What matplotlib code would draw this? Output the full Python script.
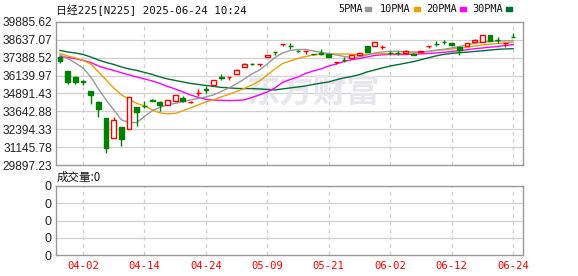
import matplotlib
matplotlib.use("Agg")
import matplotlib.pyplot as plt
import numpy as np

# ---------------- data ----------------
dates = ["03-28", "03-31", "04-01", "04-02", "04-03", "04-04", "04-07", "04-08", "04-09", "04-10",
         "04-11", "04-14", "04-15", "04-16", "04-17", "04-18", "04-21", "04-22", "04-23", "04-24",
         "04-25", "04-28", "04-30", "05-01", "05-02", "05-07", "05-08", "05-09", "05-12", "05-13",
         "05-14", "05-15", "05-16", "05-19", "05-20", "05-21", "05-22", "05-23", "05-26", "05-27",
         "05-28", "05-29", "05-30", "06-02", "06-03", "06-04", "06-05", "06-06", "06-09", "06-10",
         "06-11", "06-12", "06-13", "06-16", "06-17", "06-18", "06-19", "06-20", "06-23", "06-24"]

opens = [37423, 36468, 36070, 35740, 35072, 34326, 33189, 31773, 32540, 32401,
         33956, 34040, 34410, 34305, 34095, 34396, 34584, 34290, 34900, 35175,
         35470, 36010, 36020, 36237, 36747, 36970, 36975, 37424, 37780, 38340,
         38220, 37890, 37830, 37640, 37690, 37653, 37065, 37265, 37375, 37580,
         38210, 38210, 38110, 37710, 37755, 37745, 37653, 37770, 38180, 38360,
         38500, 38440, 38140, 38190, 38470, 38470, 38960, 38620, 38390, 38825]
highs = [37450, 36480, 36140, 35860, 35080, 34375, 33200, 33237, 32550, 34633,
         33960, 34375, 34480, 34396, 34430, 34780, 34700, 34400, 35190, 35400,
         35850, 36230, 36028, 36570, 37046, 37020, 36983, 37610, 37785, 38350,
         38400, 37895, 37840, 37680, 37980, 37660, 37075, 37420, 37570, 37750,
         38215, 38500, 38260, 37840, 37840, 37900, 37700, 37850, 38190, 38540,
         38650, 38450, 38145, 38410, 38720, 38965, 38965, 38840, 38400, 39139]
lows = [37005, 35580, 35560, 35510, 34166, 33280, 30768, 31760, 31236, 32390,
        32652, 33885, 34340, 33677, 34090, 34390, 34280, 34200, 34745, 34912,
        35460, 35850, 35840, 36230, 36740, 36880, 36815, 37420, 37590, 38210,
        37980, 37790, 37630, 37560, 37560, 37410, 36955, 37080, 37370, 37575,
        37810, 38200, 37980, 37560, 37610, 37700, 37560, 37765, 38070, 38210,
        38350, 38200, 37600, 38180, 38465, 38465, 38575, 38400, 38140, 38815]
closes = [37186, 35721, 35700, 35720, 34793, 33838, 31118, 33050, 31745, 34633,
          33628, 34026, 34396, 34072, 34420, 34773, 34396, 34305, 34912, 35163,
          35840, 36000, 36028, 36559, 36935, 36955, 36983, 37604, 37772, 38350,
          38210, 37880, 37840, 37630, 37675, 37420, 37075, 37255, 37560, 37745,
          37815, 38490, 38120, 37700, 37745, 37840, 37605, 37840, 38190, 38350,
          38490, 38280, 37930, 38400, 38630, 38960, 38580, 38610, 38400, 38818]

ma5 = [37584, 37340, 37026, 36677, 36049, 35212, 34445, 33747, 33050, 32876,
       32862, 33294, 33678, 33922, 34096, 34201, 34326, 34445, 34550, 34654,
       34794, 35038, 35282, 35561, 35910, 36258, 36537, 36956, 37409, 37723,
       37898, 37967, 37967, 37863, 37758, 37688, 37584, 37479, 37395, 37444,
       37584, 37723, 37793, 37842, 37842, 37807, 37793, 37793, 37828, 37919,
       37981, 38072, 38177, 38281, 38407, 38470, 38525, 38560, 38574, 38595]
ma10 = [37688, 37514, 37374, 37200, 36956, 36398, 35840, 35282, 34794, 34480,
        34201, 34026, 33747, 33538, 33468, 33503, 33678, 33887, 34096, 34305,
        34445, 34654, 34829, 35038, 35247, 35491, 35770, 36189, 36607, 36991,
        37165, 37340, 37479, 37584, 37653, 37653, 37653, 37653, 37633, 37619,
        37633, 37667, 37674, 37674, 37674, 37695, 37723, 37779, 37842, 37898,
        37946, 38002, 38051, 38128, 38211, 38281, 38337, 38386, 38435, 38490]
ma20 = [37479, 37409, 37326, 37200, 37061, 36816, 36642, 36503, 36342, 36189,
        36049, 35910, 35770, 35596, 35387, 35212, 35003, 34794, 34619, 34480,
        34431, 34410, 34396, 34410, 34445, 34619, 34794, 35003, 35282, 35666,
        35875, 36049, 36293, 36468, 36607, 36816, 36956, 37130, 37249, 37340,
        37444, 37549, 37598, 37619, 37612, 37619, 37633, 37653, 37688, 37723,
        37772, 37821, 37877, 37946, 38016, 38072, 38128, 38177, 38246, 38302]
ma30 = [37898, 37793, 37723, 37619, 37444, 37235, 37061, 36921, 36747, 36607,
        36503, 36363, 36224, 36049, 35910, 35805, 35700, 35596, 35526, 35456,
        35387, 35317, 35282, 35247, 35233, 35233, 35212, 35177, 35142, 35212,
        35282, 35352, 35421, 35526, 35617, 35700, 35854, 35979, 36084, 36210,
        36398, 36537, 36677, 36816, 36907, 37012, 37116, 37249, 37388, 37521,
        37626, 37695, 37744, 37779, 37828, 37877, 37926, 37974, 38002, 38023]

price_ticks = [29897.23, 31145.78, 32394.33, 33642.88, 34891.43, 36139.97, 37388.52, 38637.07, 39885.62]
price_labels = ["29897.23", "31145.78", "32394.33", "33642.88", "34891.43", "36139.97", "37388.52", "38637.07", "39885.62"]
date_ticks = ["04-02", "04-14", "04-24", "05-09", "05-21", "06-02", "06-12", "06-24"]
vol_labels = ["0", "0", "0", "0", "0"]

legend_names = ["5PMA", "10PMA", "20PMA", "30PMA"]

# ---------------- style ----------------
W, H = 578, 276
RED = "#ff0000"
GREEN = "#008000"
C5, C10, C20, C30 = "#999999", "#f0a000", "#ff00ff", "#006f33"
FRAME = "#999999"
GRID = "#d0d0d0"
CJK = ["Noto Sans CJK SC", "DejaVu Sans"]
MONO = ["DejaVu Sans Mono", "Noto Sans CJK SC"]

fig = plt.figure(figsize=(W / 100, H / 100), dpi=100)


def fx(px):
    return px / W


def fy(py):
    return 1 - py / H


ax = fig.add_axes([fx(56), fy(165), fx(523) - fx(56), fy(22) - fy(165)])
axv = fig.add_axes([fx(56), fy(255), fx(523) - fx(56), fy(186) - fy(255)])

n = len(dates)
x = np.arange(n)
xlim = (-0.52, 60.3)
date_idx = [dates.index(d) for d in date_ticks]

for a in (ax, axv):
    a.set_xlim(*xlim)
    for s in a.spines.values():
        s.set_color(FRAME)
        s.set_linewidth(1.0)
    a.tick_params(length=0)
    for xi in date_idx:
        a.axvline(xi, color=GRID, lw=0.9, ls=(0, (3, 3)), zorder=0.5)

# price axis
ax.set_ylim(price_ticks[0], price_ticks[-1])
ax.set_yticks(price_ticks)
ax.set_yticklabels(price_labels, fontsize=8.6, color="#222222", family="Liberation Sans")
ax.tick_params(axis="y", pad=3)
for t in price_ticks[1:-1]:
    ax.axhline(t, color=GRID, lw=0.9, zorder=0.5)
ax.set_xticks([])

# watermark
ax.text(0.55, 0.50, "东方财富", transform=ax.transAxes, fontsize=24, fontweight="bold",
        color="#e6e6ec", family=CJK, ha="center", va="center", zorder=0.6)

# moving averages
ax.plot(x, ma30, color=C30, lw=1.0, zorder=2)
ax.plot(x, ma20, color=C20, lw=1.0, zorder=2)
ax.plot(x, ma10, color=C10, lw=1.0, zorder=2)
ax.plot(x, ma5, color=C5, lw=1.0, zorder=2)

# candles
bw = 0.62
for i in range(n):
    o, h, l, c = opens[i], highs[i], lows[i], closes[i]
    up = c >= o
    col = RED if up else GREEN
    ax.vlines(x[i], l, h, color=col, lw=1.0, zorder=3)
    bottom = min(o, c)
    height = abs(c - o)
    ax.bar(x[i], height, bw, bottom=bottom, facecolor="white" if up else GREEN,
           edgecolor=col, linewidth=1.0, zorder=4)

# volume panel
axv.set_ylim(0, 1)
vt = np.linspace(0, 1, len(vol_labels))
axv.set_yticks(vt)
axv.set_yticklabels(vol_labels, fontsize=9, color="#222222", family="Liberation Sans")
axv.tick_params(axis="y", pad=3)
for t in vt[1:-1]:
    axv.axhline(t, color=GRID, lw=0.9, zorder=0.5)
axv.set_xticks(date_idx)
axv.set_xticklabels(date_ticks, fontsize=7.6, color=RED, family=MONO)
axv.tick_params(axis="x", pad=4)

# title and labels
fig.text(fx(56), fy(10), "日经225[N225] 2025-06-24 10:24", fontsize=7.8, family=MONO,
         color="#111111", ha="left", va="center")
fig.text(fx(57), fy(177.5), "成交量:0", fontsize=8.3, family=CJK, color="#111111",
         ha="left", va="center")

# legend
leg_x = [338, 380, 426, 472]
leg_cols = [C5, C10, C20, C30]
for name, lx, lc in zip(legend_names, leg_x, leg_cols):
    t = fig.text(fx(lx), fy(9), name, fontsize=7.4, family=MONO, color="#111111",
                 ha="left", va="center")
    fig.canvas.draw() if False else None
    tw = len(name) * 6.3
    fig.patches.append(plt.Rectangle((fx(lx + tw + 2), fy(10.5)), fx(6), 3 / H,
                                     transform=fig.transFigure, color=lc, figure=fig))

fig.savefig("out.png", dpi=100)
